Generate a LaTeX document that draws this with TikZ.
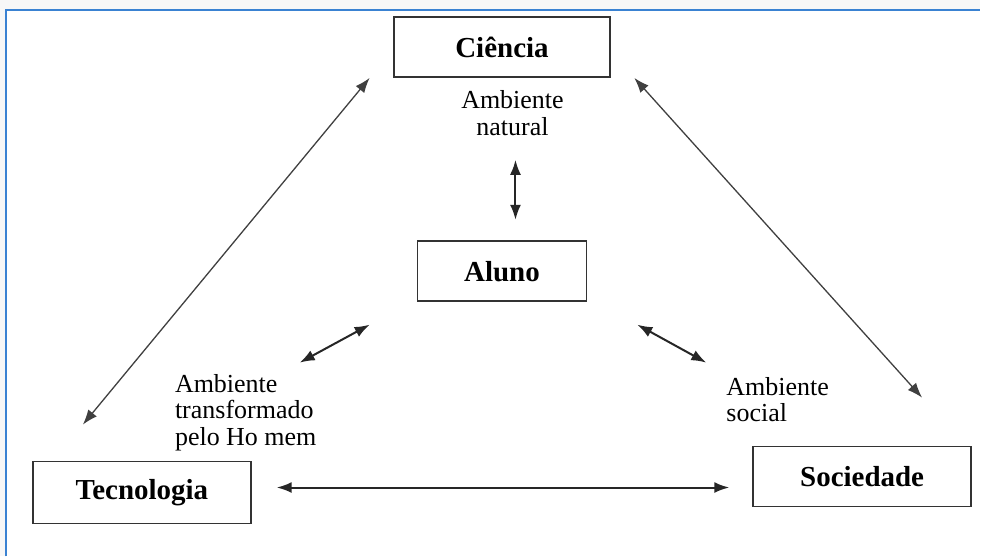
\documentclass[tikz,border=0pt]{standalone}
\usepackage{fontspec}
\setmainfont{Liberation Serif}
\usetikzlibrary{arrows.meta,positioning,calc}
\definecolor{frameblue}{RGB}{58,130,210}
\tikzstyle{box}   =[rectangle, draw=black!80, line width=1.8pt,
                    fill=white, minimum height=60pt, inner sep=0pt,
                    font=\fontsize{29}{30}\selectfont\bfseries]
\tikzstyle{link}  =[<->, >={Latex[length=15pt,width=11pt]},
                    line width=1.3pt, draw=black!75]
\tikzstyle{short} =[link, line width=2pt, draw=black!85]
\tikzstyle{note}  =[inner sep=0pt, fill=none, draw=none,
                    font=\fontsize{26}{26.5}\selectfont]

\begin{document}
\begin{tikzpicture}[x=1pt, y=-1pt]
    % page and frame
    \fill[black!3] (0,0) rectangle (981,557);
    \fill[white] (6,10) rectangle (981,557);
    \draw[frameblue, line width=2pt] (6,557) -- (6,10) -- (981,10);
    % boxes
    \node (cie) [box, minimum width=217pt] at (502.5,47) {Ciência};
    \node (alu) [box, minimum width=169pt] at (502.5,271.5) {Aluno};
    \node (tec) [box, minimum width=218pt, minimum height=62pt] at (142,493) {Tecnologia};
    \node (soc) [box, minimum width=218pt] at (863,477) {Sociedade};
    % ambientes
    \node (nat) [note, align=center] at (513,113) {Ambiente\\natural};
    \node (tra) [note, align=left, anchor=west] at (175,413) {Ambiente\\transformado\\pelo Ho mem};
    \node (soci) [note, align=left, anchor=west] at (727,400) {Ambiente\\social};
    % arrow ends
    \coordinate (cieL) at (370,78);
    \coordinate (tecT) at (83,425);
    \coordinate (cieR) at (635,78);
    \coordinate (socT) at (923,398);
    \coordinate (natB) at (516,160);
    \coordinate (aluT) at (516,220);
    \coordinate (aluL) at (370,325);
    \coordinate (traT) at (300,363);
    \coordinate (aluR) at (638,325);
    \coordinate (socL) at (707,363);
    \coordinate (tecR) at (277,488);
    \coordinate (socW) at (730,488);
    % connectors
    \draw[link] (cieL) -- (tecT);
    \draw[link] (cieR) -- (socT);
    \draw[short] (natB) -- (aluT);
    \draw[short] (aluL) -- (traT);
    \draw[short] (aluR) -- (socL);
    \draw[short] (tecR) -- (socW);
\end{tikzpicture}
\end{document}
